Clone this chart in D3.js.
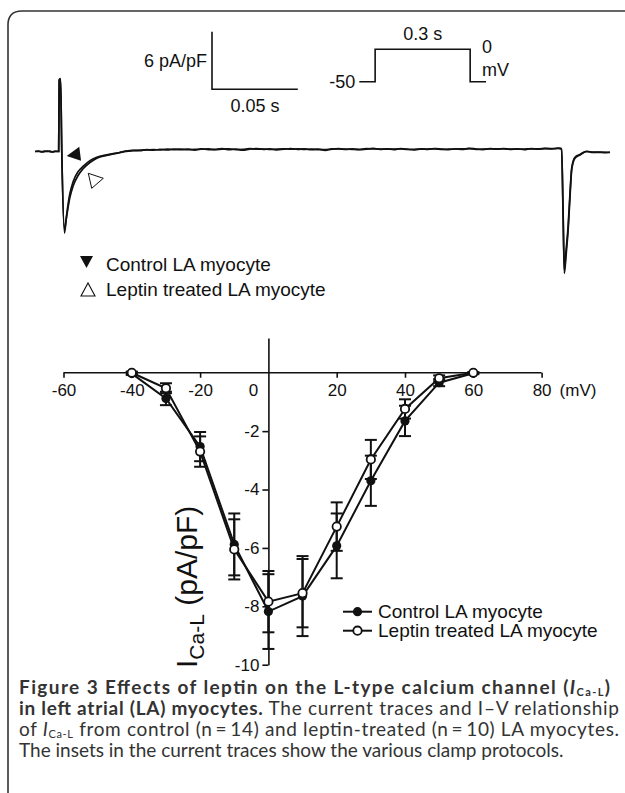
<!DOCTYPE html>
<html>
<head>
<meta charset="utf-8">
<script src="https://cdn.jsdelivr.net/npm/d3@7"></script>
<style>
  body { margin: 0; background: #fff; }
  svg { display: block; }
  text { font-family: "Liberation Sans", Arial, sans-serif; fill: #111; }
  .cap text { font-family: Lato, "Open Sans", sans-serif; fill: #333; }
</style>
</head>
<body>
<div id="chart"></div>
<script>
let width = 625;
let height = 793;

// current traces (time in ms, current in pA/pF)
var traceT = [0, 2, 4, 6, 8, 10, 12, 13.8, 14.1, 14.9, 15.6, 17.2, 18.3, 20.3, 22.2, 25.1, 28, 32, 36, 41.7, 49.4,
  53, 57, 61, 65, 69, 73, 77, 81, 85, 89, 93, 97, 101, 105, 109, 113, 117, 121, 125, 129, 133, 137, 141, 145,
  149, 153, 157, 161, 165, 169, 173, 177, 181, 185, 189, 193, 197, 201, 205, 209, 213, 217, 221, 225, 229,
  233, 237, 241, 245, 249, 253, 257, 261, 265, 269, 273, 277, 281, 285, 289, 293, 297, 301, 305, 306.8,
  307.6, 308.4, 309.4, 310.6, 311.7, 312.7, 314.6, 317.5, 321.4, 325, 329, 333, 335];
var controlTrace = [0, 0.05, -0.05, 0, 0.05, -0.03, 0, 0, 7.5, 7.6, 0, -8.5, -6.8, -4.4, -3.15, -2.1, -1.55, -0.95, -0.6, -0.35, -0.1,
  0.05, 0.12, 0.08, 0.2, 0.14, 0.22, 0.16, 0.26, 0.18, 0.24, 0.15, 0.27, 0.2, 0.23, 0.3, 0.2, 0.26, 0.14, 0.25, 0.31, 0.22, 0.28, 0.17, 0.24,
  0.3, 0.22, 0.27, 0.19, 0.26, 0.12, 0.24, 0.3, 0.21, 0.27, 0.18, 0.25, 0.32, 0.23, 0.28, 0.2, 0.3, 0.24, 0.17, 0.27, 0.22,
  0.31, 0.25, 0.19, 0.28, 0.23, 0.33, 0.26, 0.2, 0.29, 0.24, 0.31, 0.22, 0.27, 0.2, 0.3, 0.24, 0.32, 0.27, 0.35, 0.3,
  -6, -12.7, -10.8, -8.2, -4.7, -1.9, -0.7, -0.36, 0, -0.1, -0.05, -0.12, -0.08];
var leptinTrace = [0, 0.02, -0.02, 0.04, 0, -0.05, 0.03, 0, 7.4, 7.5, 0, -8.1, -6.9, -4.8, -3.6, -2.5, -1.8, -1.15, -0.7, -0.4, -0.12,
  0.02, 0.1, 0.14, 0.16, 0.2, 0.17, 0.24, 0.2, 0.25, 0.19, 0.22, 0.24, 0.28, 0.18, 0.25, 0.27, 0.2, 0.22, 0.29, 0.25, 0.26, 0.21, 0.26, 0.28,
  0.24, 0.27, 0.22, 0.25, 0.2, 0.2, 0.27, 0.26, 0.25, 0.22, 0.23, 0.29, 0.27, 0.26, 0.24, 0.25, 0.27, 0.21, 0.23, 0.25, 0.26,
  0.27, 0.22, 0.24, 0.26, 0.27, 0.29, 0.23, 0.24, 0.26, 0.28, 0.26, 0.25, 0.24, 0.26, 0.27, 0.28, 0.29, 0.3, 0.32, 0.28,
  -5.5, -12.4, -10.3, -7.8, -4.3, -1.7, -0.6, -0.3, 0.02, -0.06, -0.1, -0.08, -0.1];

// clamp protocol inset
var protocolT = [-50, 0, 0, 300, 300, 350];
var protocolV = [-50, -50, 0, 0, -50, -50];

// I-V relationship
var voltages = [-40, -30, -20, -10, 0, 10, 20, 30, 40, 50, 60];
var controlMean = [-0.03, -0.88, -2.53, -5.88, -8.18, -7.65, -5.93, -3.70, -1.65, -0.34, -0.02];
var controlSem = [0.05, 0.23, 0.50, 1.06, 1.28, 1.37, 1.11, 0.86, 0.52, 0.12, 0.03];
var leptinMean = [0, -0.53, -2.70, -6.05, -7.84, -7.55, -5.27, -2.97, -1.24, -0.19, 0];
var leptinSem = [0.04, 0.17, 0.52, 1.03, 1.05, 1.17, 0.83, 0.67, 0.33, 0.10, 0.02];
var xTicks = [-60, -40, -20, 0, 20, 40, 60, 80];
var yTicks = [-2, -4, -6, -8, -10];

var svg = d3.select("#chart").append("svg")
    .attr("width", width)
    .attr("height", height);

// frame with rounded corner
svg.append("path")
    .attr("d", "M8,800 V25 Q8,11 22,11 H630")
    .attr("fill", "none")
    .attr("stroke", "#333")
    .attr("stroke-width", 1.6);

// ---------- current traces ----------
var xT = d3.scaleLinear().domain([0, 335]).range([35, 610]);
var yT = d3.scaleLinear().domain([-13, 8]).range([151.5 + 13 * 9.6, 151.5 - 8 * 9.6]);

var traceLine = d3.line()
    .x(function (d) { return xT(d[0]); })
    .y(function (d) { return yT(d[1]); })
    .curve(d3.curveMonotoneX);

[leptinTrace, controlTrace].forEach(function (series) {
    svg.append("path")
        .datum(traceT.map(function (t, i) { return [t, series[i]]; }))
        .attr("d", traceLine)
        .attr("fill", "none")
        .attr("stroke", "#111")
        .attr("stroke-width", 1.7);
});

// scale bar: 6 pA/pF, 0.05 s
var barX = 212, barY = 89.3;
var barW = xT(50) - xT(0);
var barH = yT(0) - yT(6);
svg.append("path")
    .attr("d", "M" + barX + "," + (barY - barH) + " V" + barY + " H" + (barX + barW))
    .attr("fill", "none").attr("stroke", "#111").attr("stroke-width", 1.6);
svg.append("text").attr("x", barX - 5).attr("y", 67).attr("text-anchor", "end")
    .style("font-size", "18px").text("6 pA/pF");
svg.append("text").attr("x", barX + barW / 2).attr("y", 112).attr("text-anchor", "middle")
    .style("font-size", "18px").text("0.05 s");

// protocol inset
var xP = d3.scaleLinear().domain([-50, 350]).range([359.3, 486]);
var yP = d3.scaleLinear().domain([-50, 0]).range([81.7, 49.3]);
svg.append("path")
    .datum(protocolT.map(function (t, i) { return [t, protocolV[i]]; }))
    .attr("d", d3.line().x(function (d) { return xP(d[0]); }).y(function (d) { return yP(d[1]); }))
    .attr("fill", "none").attr("stroke", "#111").attr("stroke-width", 1.6);
svg.append("text").attr("x", xP(-50) - 4).attr("y", 88).attr("text-anchor", "end")
    .style("font-size", "18px").text("-50");
svg.append("text").attr("x", xP(150)).attr("y", 40).attr("text-anchor", "middle")
    .style("font-size", "18px").text("0.3 s");
svg.append("text").attr("x", 482).attr("y", 53).style("font-size", "18px").text("0");
svg.append("text").attr("x", 482).attr("y", 76).style("font-size", "18px").text("mV");

// arrowheads marking the traces
svg.append("path").attr("d", "M66.7,156 L79.3,146.7 L81,160.7 Z").attr("fill", "#111");
svg.append("path").attr("d", "M88.3,173.3 L103.3,178.3 L91.7,188.3 Z")
    .attr("fill", "#fff").attr("stroke", "#111").attr("stroke-width", 1);

// trace legend
svg.append("path").attr("d", "M80,256 L93,256 L86.5,268 Z").attr("fill", "#111");
svg.append("path").attr("d", "M81,296 L95,296 L88,283 Z")
    .attr("fill", "none").attr("stroke", "#111").attr("stroke-width", 1.1);
svg.append("text").attr("x", 106).attr("y", 271).style("font-size", "19px").text("Control LA myocyte");
svg.append("text").attr("x", 106).attr("y", 296).style("font-size", "19px").text("Leptin treated LA myocyte");

// ---------- I-V relationship ----------
var x = d3.scaleLinear().domain([-60, 80]).range([63.5, 541.6]);
var y = d3.scaleLinear().domain([-10, 1.19]).range([664.7, 338]);
var hyphen = function (d) { return String(d); };

var xAxis = svg.append("g")
    .attr("transform", "translate(0," + y(0) + ")")
    .call(d3.axisBottom(x).tickValues(xTicks.filter(function (v) { return v !== 0; }))
        .tickSize(5).tickSizeOuter(0).tickPadding(6).tickFormat(hyphen));
var yAxis = svg.append("g")
    .attr("transform", "translate(" + x(0) + ",0)")
    .call(d3.axisLeft(y).tickValues(yTicks).tickSize(6).tickSizeOuter(0).tickPadding(3)
        .tickFormat(hyphen));
[xAxis, yAxis].forEach(function (g) {
    g.selectAll("path, line").attr("stroke", "#111").attr("stroke-width", 1.6);
    g.selectAll("text").style("font-size", "17px").style("font-family", "Liberation Sans, Arial, sans-serif").attr("fill", "#111");
});
xAxis.select(".domain").attr("d", "M" + x(-60) + ",0 H" + x(80));
// 0 mV label sits left of the vertical axis
svg.append("text").attr("x", x(0) - 15).attr("y", y(0) + 23.5).attr("text-anchor", "middle")
    .style("font-size", "17px").text("0");
svg.append("text").attr("x", x(80) + 18).attr("y", y(0) + 23.5)
    .style("font-size", "17px").text("(mV)");

// y label
var yl = svg.append("text")
    .attr("transform", "translate(197,668) rotate(-90)")
    .style("font-size", "30px");
yl.append("tspan").text("I");
yl.append("tspan").attr("dy", 7).style("font-size", "21px").text("Ca-L");
yl.append("tspan").attr("dy", -7).text(" (pA/pF)");

function drawSeries(mean, sem) {
    var pts = voltages.map(function (v, i) { return { v: v, m: mean[i], s: sem[i] }; });
    svg.append("path")
        .datum(pts)
        .attr("d", d3.line().x(function (d) { return x(d.v); }).y(function (d) { return y(d.m); }))
        .attr("fill", "none").attr("stroke", "#111").attr("stroke-width", 2);
    var eb = svg.append("g").selectAll("g").data(pts).enter().append("g");
    eb.append("line")
        .attr("x1", function (d) { return x(d.v); }).attr("x2", function (d) { return x(d.v); })
        .attr("y1", function (d) { return y(d.m + d.s); }).attr("y2", function (d) { return y(d.m - d.s); })
        .attr("stroke", "#111").attr("stroke-width", 2);
    [1, -1].forEach(function (sign) {
        eb.append("line")
            .attr("x1", function (d) { return x(d.v) - 6; }).attr("x2", function (d) { return x(d.v) + 6; })
            .attr("y1", function (d) { return y(d.m + sign * d.s); }).attr("y2", function (d) { return y(d.m + sign * d.s); })
            .attr("stroke", "#111").attr("stroke-width", 2);
    });
    return pts;
}
var ctlPts = drawSeries(controlMean, controlSem);
var lepPts = drawSeries(leptinMean, leptinSem);

svg.append("g").selectAll("circle").data(ctlPts).enter().append("circle")
    .attr("cx", function (d) { return x(d.v); }).attr("cy", function (d) { return y(d.m); })
    .attr("r", 4.6).attr("fill", "#111");
svg.append("g").selectAll("circle").data(lepPts).enter().append("circle")
    .attr("cx", function (d) { return x(d.v); }).attr("cy", function (d) { return y(d.m); })
    .attr("r", 4.2).attr("fill", "#fff").attr("stroke", "#111").attr("stroke-width", 1.8);

// I-V legend
var legendRows = [{ label: "Control LA myocyte", filled: true }, { label: "Leptin treated LA myocyte", filled: false }];
var lg = svg.append("g").selectAll("g").data(legendRows).enter().append("g")
    .attr("transform", function (d, i) { return "translate(343," + (611.7 + i * 19) + ")"; });
lg.append("line").attr("x1", 0).attr("x2", 29).attr("stroke", "#111").attr("stroke-width", 2);
lg.append("circle").attr("cx", 14.5).attr("r", function (d) { return d.filled ? 4.6 : 4.2; })
    .attr("fill", function (d) { return d.filled ? "#111" : "#fff"; })
    .attr("stroke", "#111").attr("stroke-width", function (d) { return d.filled ? 0 : 1.8; });
lg.append("text").attr("x", 35).attr("y", 6).style("font-size", "19px").text(function (d) { return d.label; });

// ---------- caption ----------
var cap = svg.append("g").attr("class", "cap").style("font-size", "19px");
var l1 = cap.append("text").attr("x", 19).attr("y", 694);
l1.append("tspan").style("font-weight", "bold").text("Figure 3 Effects of leptin on the L-type calcium channel (");
l1.append("tspan").style("font-weight", "bold").style("font-style", "italic").text("I");
l1.append("tspan").style("font-weight", "bold").style("font-size", "11px").attr("dy", 1.5).text("Ca-L");
l1.append("tspan").style("font-weight", "bold").attr("dy", -1.5).text(")");
var l2 = cap.append("text").attr("x", 19).attr("y", 715);
l2.append("tspan").style("font-weight", "bold").text("in left atrial (LA) myocytes.");
l2.append("tspan").text(" The current traces and I\u2013V relationship");
var l3 = cap.append("text").attr("x", 19).attr("y", 736);
l3.append("tspan").text("of ");
l3.append("tspan").style("font-style", "italic").text("I");
l3.append("tspan").style("font-size", "11px").attr("dy", 1.5).text("Ca-L");
l3.append("tspan").attr("dy", -1.5).text(" from control (n\u2009=\u200914) and leptin-treated (n\u2009=\u200910) LA myocytes.");
cap.append("text").attr("x", 19).attr("y", 757).text("The insets in the current traces show the various clamp protocols.");

// justify the first three lines to the right margin
[[l1, 591], [l2, 600], [l3, 600]].forEach(function (p) {
    p[0].attr("textLength", p[1]).attr("lengthAdjust", "spacing");
});
</script>
</body>
</html>
